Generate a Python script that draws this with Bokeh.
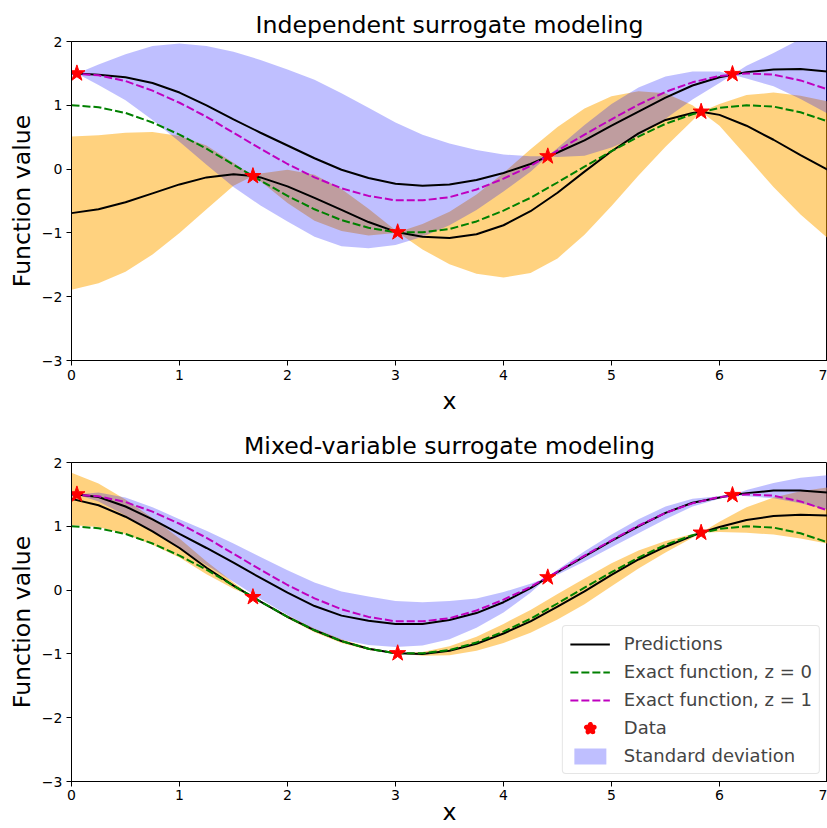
import numpy as np
from bokeh.plotting import figure
from bokeh.layouts import column
from bokeh.models import Range1d, FixedTicker, Legend, LegendItem
from bokeh.embed import file_html
from bokeh.resources import INLINE

# ---------------- data ----------------
x_grid = [0, 0.25, 0.5, 0.75, 1.0, 1.25, 1.5, 1.75, 2.0, 2.25, 2.5, 2.75, 3.0, 3.25,
          3.5, 3.75, 4.0, 4.25, 4.5, 4.75, 5.0, 5.25, 5.5, 5.75, 6.0, 6.25, 6.5, 6.75, 7.0]
exact_z0 = [1.0, 0.97, 0.88, 0.73, 0.54, 0.32, 0.07, -0.18, -0.42, -0.63, -0.80, -0.92, -0.99, -0.99,
            -0.94, -0.82, -0.65, -0.45, -0.21, 0.04, 0.28, 0.51, 0.71, 0.86, 0.96, 1.0, 0.98, 0.89, 0.75]
exact_z1 = [1.5, 1.47, 1.38, 1.23, 1.04, 0.82, 0.57, 0.32, 0.08, -0.13, -0.30, -0.42, -0.49, -0.49,
            -0.44, -0.32, -0.15, 0.05, 0.29, 0.54, 0.78, 1.01, 1.21, 1.36, 1.46, 1.5, 1.48, 1.39, 1.25]

x_data_z0 = [1.68, 3.02, 5.83]
y_data_z0 = [-0.11, -0.99, 0.90]
x_data_z1 = [0.05, 4.41, 6.12]
y_data_z1 = [1.50, 0.20, 1.49]

x_pred_z0 = [0, 0.25, 0.5, 0.75, 1.0, 1.25, 1.5, 1.68, 1.75, 2.0, 2.25, 2.5, 2.75, 3.0, 3.02, 3.25,
             3.5, 3.75, 4.0, 4.25, 4.5, 4.75, 5.0, 5.25, 5.5, 5.75, 5.83, 6.0, 6.25, 6.5, 6.75, 7.0]
x_pred_z1 = [0, 0.05, 0.25, 0.5, 0.75, 1.0, 1.25, 1.5, 1.75, 2.0, 2.25, 2.5, 2.75, 3.0, 3.25, 3.5,
             3.75, 4.0, 4.25, 4.41, 4.5, 4.75, 5.0, 5.25, 5.5, 5.75, 6.0, 6.12, 6.25, 6.5, 6.75, 7.0]

# Independent surrogate modeling
indep_mean_z0 = [-0.69, -0.63, -0.52, -0.38, -0.24, -0.13, -0.08, -0.11, -0.13, -0.27, -0.45, -0.64, -0.83,
                 -0.98, -0.99, -1.06, -1.08, -1.02, -0.88, -0.66, -0.37, -0.04, 0.28, 0.56, 0.77, 0.88,
                 0.90, 0.85, 0.68, 0.46, 0.22, -0.01]
indep_std_z0 = [1.2, 1.16, 1.09, 0.96, 0.76, 0.5, 0.18, 0.0, 0.06, 0.26, 0.36, 0.33, 0.21, 0.02, 0.0,
                0.2, 0.41, 0.62, 0.82, 0.97, 1.03, 0.99, 0.86, 0.66, 0.42, 0.12, 0.0, 0.17, 0.48, 0.74,
                0.93, 1.07]
indep_mean_z1 = [1.50, 1.50, 1.48, 1.44, 1.35, 1.20, 1.00, 0.78, 0.57, 0.37, 0.17, -0.01, -0.14, -0.23,
                 -0.26, -0.24, -0.17, -0.06, 0.08, 0.20, 0.26, 0.45, 0.68, 0.90, 1.12, 1.31, 1.44, 1.48,
                 1.52, 1.56, 1.57, 1.53]
indep_std_z1 = [0.0, 0.0, 0.16, 0.36, 0.58, 0.77, 0.93, 1.06, 1.14, 1.19, 1.23, 1.2, 1.1, 0.96, 0.8, 0.64,
                0.47, 0.29, 0.12, 0.0, 0.07, 0.24, 0.34, 0.38, 0.33, 0.22, 0.09, 0.0, 0.1, 0.26, 0.47, 0.66]

# Mixed-variable surrogate modeling
mixed_mean_z0 = [1.43, 1.33, 1.15, 0.92, 0.66, 0.35, 0.07, -0.11, -0.18, -0.42, -0.63, -0.80, -0.92,
                 -0.99, -0.99, -1.0, -0.95, -0.84, -0.68, -0.49, -0.26, -0.02, 0.24, 0.48, 0.68, 0.85,
                 0.90, 0.99, 1.1, 1.16, 1.18, 1.17]
mixed_std_z0 = [0.41, 0.34, 0.27, 0.21, 0.15, 0.1, 0.05, 0.0, 0.01, 0.02, 0.03, 0.03, 0.02, 0.005, 0.0,
                0.03, 0.07, 0.11, 0.15, 0.18, 0.2, 0.2, 0.18, 0.14, 0.09, 0.03, 0.0, 0.08, 0.2, 0.29,
                0.37, 0.44]
mixed_mean_z1 = [1.50, 1.50, 1.46, 1.31, 1.11, 0.88, 0.66, 0.43, 0.19, -0.04, -0.25, -0.40, -0.48, -0.53,
                 -0.53, -0.47, -0.36, -0.19, 0.03, 0.20, 0.28, 0.53, 0.77, 1.0, 1.21, 1.37, 1.45, 1.49,
                 1.52, 1.56, 1.56, 1.53]
mixed_std_z1 = [0.0, 0.0, 0.07, 0.14, 0.19, 0.23, 0.27, 0.30, 0.33, 0.35, 0.37, 0.38, 0.38, 0.36, 0.34,
                0.30, 0.23, 0.16, 0.07, 0.0, 0.04, 0.08, 0.1, 0.11, 0.1, 0.06, 0.02, 0.0, 0.05, 0.12,
                0.2, 0.27]

x_ticks = [0, 1, 2, 3, 4, 5, 6, 7]
y_ticks = [-3, -2, -1, 0, 1, 2]
y_tick_labels = ["\u22123", "\u22122", "\u22121", "0", "1", "2"]

titles = ["Independent surrogate modeling", "Mixed-variable surrogate modeling"]
x_label = "x"
y_label = "Function value"
legend_labels = ["Predictions", "Exact function, z = 0", "Exact function, z = 1", "Data",
                 "Standard deviation"]

FONT = "DejaVu Sans"


def make_panel(title, b_top, b_bottom, lab_sd, ax_sd, m0, s0, m1, s1):
    p = figure(frame_width=756, frame_height=319, x_range=Range1d(0, 7), y_range=Range1d(-3, 2),
               output_backend="svg", toolbar_location=None, title=title,
               min_border_left=71, min_border_right=0, min_border_top=b_top,
               min_border_bottom=b_bottom)
    p.title.align = "center"
    p.title.text_font = FONT
    p.title.text_font_size = "23.6px"
    p.title.text_font_style = "normal"
    p.title.text_color = "black"
    p.title.standoff = 6
    p.xgrid.visible = False
    p.ygrid.visible = False
    p.outline_line_color = "black"
    p.outline_line_width = 1
    p.background_fill_color = "white"
    p.border_fill_color = "white"

    p.xaxis.ticker = FixedTicker(ticks=x_ticks)
    p.yaxis.ticker = FixedTicker(ticks=y_ticks)
    p.yaxis.major_label_overrides = {t: l for t, l in zip(y_ticks, y_tick_labels)}
    for ax in (p.xaxis, p.yaxis):
        ax.major_tick_out = 5
        ax.major_tick_in = 0
        ax.minor_tick_line_color = None
        ax.axis_line_color = "black"
        ax.major_tick_line_color = "black"
        ax.major_label_text_font = FONT
        ax.major_label_text_font_size = "14px"
        ax.major_label_text_color = "black"
        ax.axis_label_text_font = FONT
        ax.axis_label_text_font_size = "23.6px"
        ax.axis_label_text_font_style = "normal"
        ax.axis_label_text_color = "black"
    p.xaxis.axis_label = x_label
    p.yaxis.axis_label = y_label
    p.xaxis.major_label_standoff = lab_sd
    p.xaxis.axis_label_standoff = ax_sd
    p.yaxis.major_label_standoff = 4
    p.yaxis.axis_label_standoff = 3

    m0 = np.array(m0); s0 = np.array(s0)
    m1 = np.array(m1); s1 = np.array(s1)
    p.varea(x=x_pred_z0, y1=m0 - s0, y2=m0 + s0, fill_color="#FFA500", fill_alpha=0.5)
    band = p.varea(x=x_pred_z1, y1=m1 - s1, y2=m1 + s1, fill_color="#0000FF", fill_alpha=0.25)
    pred = p.line(x_pred_z0, m0, line_color="black", line_width=2)
    p.line(x_pred_z1, m1, line_color="black", line_width=2)
    g = p.line(x_grid, exact_z0, line_color="#008000", line_width=2, line_dash="8 3")
    mg = p.line(x_grid, exact_z1, line_color="#BF00BF", line_width=2, line_dash="8 3")
    # legend proxy for the data markers: tiny thick-edged stars hidden under the plotted stars
    st = p.scatter(x_data_z0, y_data_z0, marker="star", size=1, fill_color="red", line_color="red",
                   line_width=5, line_join="round")
    p.scatter(x_data_z0, y_data_z0, marker="star", size=17, fill_color="red", line_color="red")
    p.scatter(x_data_z1, y_data_z1, marker="star", size=17, fill_color="red", line_color="red")
    return p, [pred, g, mg, st, band]


p1, _ = make_panel(titles[0], 41, 56, 4, 4,
                   indep_mean_z0, indep_std_z0, indep_mean_z1, indep_std_z1)
p2, rends = make_panel(titles[1], 45, 48, 3, -5,
                       mixed_mean_z0, mixed_std_z0, mixed_mean_z1, mixed_std_z1)

legend = Legend(items=[LegendItem(label=l, renderers=[r]) for l, r in zip(legend_labels, rends)],
                location="bottom_right")
legend.label_text_font = FONT
legend.label_text_font_size = "18px"
legend.glyph_width = 40
legend.glyph_height = 20
legend.label_standoff = 14
legend.spacing = 7
legend.padding = 7
legend.margin = 7
legend.border_line_color = "#cccccc"
legend.border_line_width = 1
legend.background_fill_alpha = 0.8
if "border_radius" in Legend.properties():
    legend.border_radius = 4
p2.add_layout(legend)

layout = column(p1, p2, spacing=0)
open("out.html", "w").write(file_html(layout, INLINE))
